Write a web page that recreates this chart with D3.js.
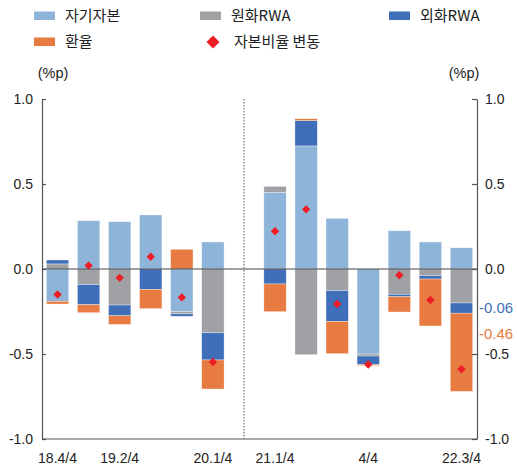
<!DOCTYPE html>
<html>
<head>
<meta charset="utf-8">
<script src="https://cdn.jsdelivr.net/npm/d3@7"></script>
<style>
  html, body { margin: 0; padding: 0; background: #fff; }
  svg { display: block; }
</style>
</head>
<body>
<svg id="chart" width="517" height="469"></svg>
<script>
// Quarterly periods; "gap" is the empty slot holding the divider line
const periods = ["18.4/4", "19.1/4", "19.2/4", "19.3/4", "19.4/4", "20.1/4", "gap",
                 "21.1/4", "21.2/4", "21.3/4", "4/4", "22.1/4", "22.2/4", "22.3/4"];
const tickPeriods = ["18.4/4", "19.2/4", "20.1/4", "21.1/4", "4/4", "22.3/4"];

// Contributions to the capital ratio change (%p)
const equity   = [-0.190, 0.284, 0.278, 0.318, -0.251, 0.159, null, 0.451, 0.724, 0.298, -0.500, 0.225, 0.159, 0.125];
const krwRwa   = [ 0.030, -0.092, -0.212, 0.000, -0.013, -0.375, null, 0.035, -0.504, -0.127, -0.012, -0.149, -0.039, -0.200];
const fxRwa    = [ 0.023, -0.118, -0.063, -0.120, -0.014, -0.160, null, -0.088, 0.149, -0.181, -0.050, -0.014, -0.020, -0.060];
const fxRate   = [-0.016, -0.047, -0.051, -0.113, 0.116, -0.171, null, -0.163, 0.011, -0.190, -0.006, -0.090, -0.276, -0.460];
const ratioChg = [-0.150, 0.020, -0.052, 0.072, -0.167, -0.547, null, 0.222, 0.351, -0.206, -0.562, -0.037, -0.182, -0.590];

const yTicks = [1.0, 0.5, 0.0, -0.5, -1.0];

const seriesNames  = ["자기자본", "원화RWA", "외화RWA", "환율"];
const seriesColors = ["#8FB4D9", "#A0A1A5", "#3F6FB8", "#E77B42"];
const markerColor = "#EE1C25";

const rows = periods.map((p, i) => ({
  period: p,
  "자기자본": equity[i] || 0,
  "원화RWA": krwRwa[i] || 0,
  "외화RWA": fxRwa[i] || 0,
  "환율": fxRate[i] || 0,
  ratio: ratioChg[i],
  gap: equity[i] === null
}));

const svg = d3.select("#chart");
const plotLeft = 42, plotRight = 477, plotTop = 99, plotBottom = 439;

const x = d3.scaleBand().domain(periods).range([plotLeft, plotRight])
  .paddingInner(0.28).paddingOuter(0.14);
const y = d3.scaleLinear().domain([-1, 1]).range([plotBottom, plotTop]);

const stack = d3.stack().keys(seriesNames).offset(d3.stackOffsetDiverging);
const stacked = stack(rows.filter(r => !r.gap));

// Stacked bars
svg.append("g").selectAll("g")
  .data(stacked).join("g")
  .attr("fill", (d, i) => seriesColors[i])
  .selectAll("rect")
  .data(d => d.filter(s => Math.abs(s[1] - s[0]) > 1e-9))
  .join("rect")
  .attr("x", d => x(d.data.period))
  .attr("width", x.bandwidth())
  .attr("y", d => y(Math.max(d[0], d[1])))
  .attr("height", d => Math.abs(y(d[0]) - y(d[1])))
  .attr("stroke", "rgba(255,255,255,0.55)")
  .attr("stroke-width", 0.6);

// Zero line
svg.append("line")
  .attr("x1", plotLeft).attr("x2", plotRight)
  .attr("y1", y(0)).attr("y2", y(0))
  .attr("stroke", "#444").attr("stroke-width", 1.2);

// Divider between periods
svg.append("line")
  .attr("x1", x("gap") + x.bandwidth() / 2).attr("x2", x("gap") + x.bandwidth() / 2)
  .attr("y1", y(1)).attr("y2", y(-1))
  .attr("stroke", "#555").attr("stroke-width", 1)
  .attr("stroke-dasharray", "1.5,1.5");

// Axes
const axisFont = "'Liberation Sans', Arial, sans-serif";
const leftAxis = svg.append("g").attr("transform", `translate(${plotLeft},0)`)
  .call(d3.axisLeft(y).tickValues(yTicks).tickFormat(d3.format(".1f")).tickSizeInner(-4).tickSizeOuter(0).tickPadding(9));
const rightAxis = svg.append("g").attr("transform", `translate(${plotRight},0)`)
  .call(d3.axisRight(y).tickValues(yTicks).tickFormat(d3.format(".1f")).tickSizeInner(-5).tickSizeOuter(0).tickPadding(8));
[leftAxis, rightAxis].forEach(g => {
  g.select(".domain").attr("stroke", "#555").attr("stroke-width", 1.2);
  g.selectAll(".tick line").attr("stroke", "#555").attr("stroke-width", 1.2);
  g.selectAll(".tick text").attr("font-family", axisFont).attr("font-size", 14).attr("fill", "#222")
    .text(d => d3.format(".1f")(d).replace("−", "-"));
});

const bottomAxis = svg.append("g").attr("transform", `translate(0,${plotBottom})`)
  .call(d3.axisBottom(x).tickValues(tickPeriods).tickSize(0).tickPadding(14));
bottomAxis.select(".domain").attr("stroke", "#555").attr("stroke-width", 1.2)
  .attr("d", `M${plotLeft},0H${plotRight}`);
bottomAxis.selectAll(".tick text").attr("font-family", axisFont).attr("font-size", 14).attr("fill", "#222");

// Units
svg.append("text").attr("x", 53).attr("y", 78).attr("text-anchor", "middle")
  .attr("font-family", axisFont).attr("font-size", 14.5).attr("fill", "#222").text("(%p)");
svg.append("text").attr("x", 464).attr("y", 78).attr("text-anchor", "middle")
  .attr("font-family", axisFont).attr("font-size", 14.5).attr("fill", "#222").text("(%p)");

// Diamond markers for the ratio change
const diamond = s => `M0,${-s}L${s},0L0,${s}L${-s},0Z`;
svg.append("g").selectAll("path")
  .data(rows.filter(r => r.ratio !== null))
  .join("path")
  .attr("transform", d => `translate(${x(d.period) + x.bandwidth() / 2},${y(d.ratio)})`)
  .attr("d", diamond(4.2))
  .attr("fill", markerColor);

// Latest-period value labels for 외화RWA and 환율
const last = rows[rows.length - 1];
const lastBlueMid = y(last["원화RWA"] + last["외화RWA"] / 2);
svg.append("text").attr("x", 479).attr("y", lastBlueMid).attr("dy", "0.35em")
  .attr("font-family", axisFont).attr("font-size", 15).attr("fill", seriesColors[2])
  .text(d3.format(".2f")(last["외화RWA"]).replace("−", "-"));
svg.append("text").attr("x", 479).attr("y", lastBlueMid + 26).attr("dy", "0.35em")
  .attr("font-family", axisFont).attr("font-size", 15).attr("fill", seriesColors[3])
  .text(d3.format(".2f")(last["환율"]).replace("−", "-"));

// Legend
const legendFont = "'Noto Sans CJK KR', 'Noto Sans', sans-serif";
const legendItems = [
  { name: "자기자본", color: seriesColors[0], x: 34, y: 16 },
  { name: "원화RWA", color: seriesColors[1], x: 200, y: 16 },
  { name: "외화RWA", color: seriesColors[2], x: 389, y: 16 },
  { name: "환율", color: seriesColors[3], x: 34, y: 42 }
];
const lg = svg.append("g");
legendItems.forEach(it => {
  lg.append("rect").attr("x", it.x).attr("y", it.y - 4.5).attr("width", 21).attr("height", 8.5).attr("fill", it.color);
  lg.append("text").attr("x", it.x + 31).attr("y", it.y).attr("dy", "0.35em")
    .attr("font-family", legendFont).attr("font-size", 15).attr("fill", "#222").text(it.name);
});
lg.append("path").attr("transform", "translate(213,42)").attr("d", diamond(6.5)).attr("fill", markerColor);
lg.append("text").attr("x", 234).attr("y", 42).attr("dy", "0.35em")
  .attr("font-family", legendFont).attr("font-size", 15).attr("fill", "#222").text("자본비율 변동");
</script>
</body>
</html>
